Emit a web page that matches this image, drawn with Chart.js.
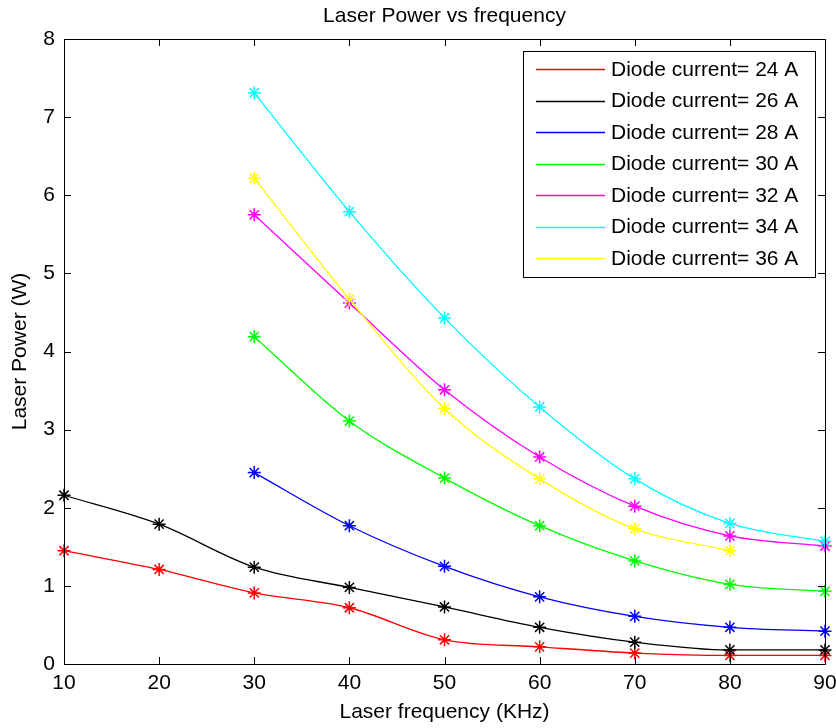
<!DOCTYPE html>
<html>
<head>
<meta charset="utf-8">
<script src="https://cdn.jsdelivr.net/npm/chart.js@4"></script>
<style>
html,body{margin:0;padding:0;background:#fff;}
#wrap{width:836px;height:728px;position:relative;}
</style>
</head>
<body>
<div id="wrap"><canvas id="c" width="836" height="728"></canvas></div>
<script>
const frequencies = [10, 20, 30, 40, 50, 60, 70, 80, 90];
const xTicks = [10, 20, 30, 40, 50, 60, 70, 80, 90];
const yTicks = [0, 1, 2, 3, 4, 5, 6, 7, 8];
const seriesLabels = ["Diode current= 24 A","Diode current= 26 A","Diode current= 28 A","Diode current= 30 A","Diode current= 32 A","Diode current= 34 A","Diode current= 36 A"];
const seriesColors = ["#ff0000","#000000","#0000ff","#00ff00","#ff00ff","#00ffff","#ffff00"];
const current24 = [1.45, 1.21, 0.91, 0.72, 0.31, 0.22, 0.14, 0.11, 0.11];
const current26 = [2.16, 1.79, 1.24, 0.98, 0.73, 0.47, 0.28, 0.18, 0.18];
const current28 = [null, null, 2.45, 1.77, 1.25, 0.86, 0.61, 0.47, 0.42];
const current30 = [null, null, 4.19, 3.11, 2.38, 1.77, 1.32, 1.02, 0.93];
const current32 = [null, null, 5.75, 4.62, 3.51, 2.65, 2.02, 1.64, 1.51];
const current34 = [null, null, 7.31, 5.79, 4.43, 3.29, 2.37, 1.80, 1.57];
const current36 = [null, null, 6.22, 4.67, 3.27, 2.37, 1.73, 1.45, null];
const seriesValues = [current24, current26, current28, current30, current32, current34, current36];

const FONT = "'Liberation Sans', Arial, sans-serif";
const FS = 21;

function toPoints(vals){
  const pts = [];
  vals.forEach((v,i)=>{ if(v!==null) pts.push({x:frequencies[i], y:v}); });
  return pts;
}

const datasets = seriesValues.map((vals,i)=>({
  label: seriesLabels[i],
  data: toPoints(vals),
  borderColor: seriesColors[i],
  backgroundColor: seriesColors[i],
  borderWidth: 1.3,
  pointStyle: 'star',
  pointRadius: 6.5,
  pointBorderWidth: 1.5,
  pointHoverRadius: 6.5,
  cubicInterpolationMode: 'monotone',
  fill: false,
  clip: 12,
  order: seriesValues.length - i
}));

const decor = {
  id: 'decor',
  afterDraw(chart){
    const ctx = chart.ctx;
    const a = chart.chartArea;
    const xs = chart.scales.x, ys = chart.scales.y;
    ctx.save();
    ctx.strokeStyle = '#000';
    ctx.lineWidth = 1;
    ctx.strokeRect(Math.round(a.left)+0.5, Math.round(a.top)+0.5, Math.round(a.right-a.left), Math.round(a.bottom-a.top));
    const tl = 7;
    ctx.beginPath();
    xTicks.forEach(t=>{
      const px = Math.round(xs.getPixelForValue(t))+0.5;
      ctx.moveTo(px, a.bottom); ctx.lineTo(px, a.bottom - tl);
      ctx.moveTo(px, a.top); ctx.lineTo(px, a.top + tl);
    });
    yTicks.forEach(t=>{
      const py = Math.round(ys.getPixelForValue(t))+0.5;
      ctx.moveTo(a.left, py); ctx.lineTo(a.left + tl, py);
      ctx.moveTo(a.right, py); ctx.lineTo(a.right - tl, py);
    });
    ctx.stroke();

    // title
    ctx.fillStyle = '#000';
    ctx.font = FS + 'px ' + FONT;
    ctx.textAlign = 'center';
    ctx.textBaseline = 'middle';
    ctx.fillText('Laser Power vs frequency', (a.left + a.right)/2, 16);
    // x title
    ctx.fillText('Laser frequency (KHz)', (a.left + a.right)/2, 712);
    // y title
    ctx.save();
    ctx.translate(20, (a.top + a.bottom)/2);
    ctx.rotate(-Math.PI/2);
    ctx.fillText('Laser Power (W)', 0, 0);
    ctx.restore();

    // legend
    const lx = 523, ly = 51, lw = 292, lh = 226;
    ctx.fillStyle = '#fff';
    ctx.fillRect(lx, ly, lw, lh);
    ctx.strokeStyle = '#000';
    ctx.strokeRect(lx+0.5, ly+0.5, lw, lh);
    ctx.font = FS + 'px ' + FONT;
    ctx.textAlign = 'left';
    ctx.textBaseline = 'middle';
    chart.data.datasets.forEach((ds,i)=>{
      const y = 69 + i*31.5;
      ctx.strokeStyle = ds.borderColor;
      ctx.lineWidth = 1.5;
      ctx.beginPath();
      ctx.moveTo(536, Math.round(y)+0.5);
      ctx.lineTo(605, Math.round(y)+0.5);
      ctx.stroke();
      ctx.fillStyle = '#000';
      ctx.fillText(ds.label, 611, y+1);
    });
    ctx.restore();
  }
};

new Chart(document.getElementById('c'), {
  type: 'line',
  data: { datasets },
  options: {
    responsive: false,
    animation: false,
    events: [],
    layout: { padding: { top: 39, right: 11, left: 0, bottom: 0 } },
    plugins: { legend: { display: false }, title: { display: false }, tooltip: { enabled: false } },
    scales: {
      x: {
        type: 'linear', min: 10, max: 90,
        afterBuildTicks: s => { s.ticks = xTicks.map(v=>({value:v})); },
        afterFit: s => { s.height = 64; s.paddingLeft = 0; s.paddingRight = 0; },
        grid: { display: false, drawTicks: false },
        border: { display: false },
        ticks: { color: '#000', font: { family: FONT, size: FS }, padding: 7, maxRotation: 0, autoSkip: false }
      },
      y: {
        type: 'linear', min: 0, max: 8,
        afterBuildTicks: s => { s.ticks = yTicks.map(v=>({value:v})); },
        afterFit: s => { s.width = 64; s.paddingTop = 0; s.paddingBottom = 0; },
        grid: { display: false, drawTicks: false },
        border: { display: false },
        ticks: { color: '#000', font: { family: FONT, size: FS }, padding: 9, autoSkip: false }
      }
    }
  },
  plugins: [decor]
});
</script>
</body>
</html>
